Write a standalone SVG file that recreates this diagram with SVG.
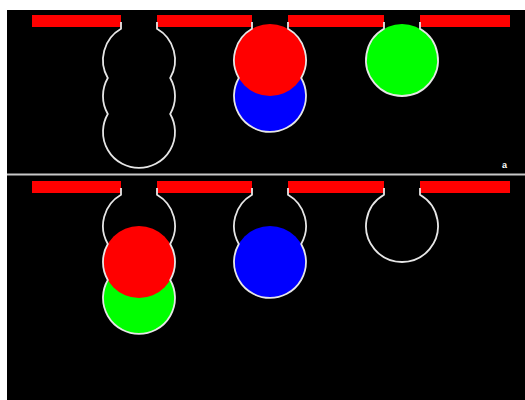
<svg xmlns="http://www.w3.org/2000/svg" width="525" height="400" viewBox="0 0 525 400">
<style>
.bar{fill:#ff0000}
.pocket{fill:none;stroke:#e6e6e6;stroke-width:1.8}
.r{fill:#ff0000}.g{fill:#00ff00}.b{fill:#0000ff}
.lbl{font-family:"Liberation Sans",Arial,sans-serif;font-size:9px;font-weight:bold;fill:#ffffff}
</style>
<rect x="0" y="0" width="525" height="400" fill="#ffffff"/>
<rect x="7" y="10" width="518" height="390" fill="#000000"/>
<line x1="7" y1="174.5" x2="525" y2="174.5" stroke="#c8c8c8" stroke-width="2"/>
<g id="top-panel">
  <g id="top-bars">
    <rect class="bar" x="32" y="15" width="89" height="12"/>
    <rect class="bar" x="157" y="15" width="95" height="12"/>
    <rect class="bar" x="288" y="15" width="96" height="12"/>
    <rect class="bar" x="420" y="15" width="90" height="12"/>
  </g>
  <g id="top-pocket-1">
    <path class="pocket" d="M121,22 L121,28.8 A36,36 0 0 0 107.8,78 A36,36 0 0 0 107.8,114 A36,36 0 1 0 170.2,114 A36,36 0 0 0 170.2,78 A36,36 0 0 0 157,28.8 L157,22"/>
  </g>
  <g id="top-pocket-2">
    <circle class="b" cx="270" cy="96" r="36"/>
    <circle class="r" cx="270" cy="60" r="36"/>
    <path class="pocket" d="M252,22 L252,28.8 A36,36 0 0 0 238.8,78 A36,36 0 1 0 301.2,78 A36,36 0 0 0 288,28.8 L288,22"/>
  </g>
  <g id="top-pocket-3">
    <circle class="g" cx="402" cy="60" r="36"/>
    <path class="pocket" d="M384,22 L384,28.8 A36,36 0 1 0 420,28.8 L420,22"/>
  </g>
  <text class="lbl" x="502" y="168">a</text>
</g>
<g id="bottom-panel">
  <g id="bottom-bars">
    <rect class="bar" x="32" y="181" width="89" height="12"/>
    <rect class="bar" x="157" y="181" width="95" height="12"/>
    <rect class="bar" x="288" y="181" width="96" height="12"/>
    <rect class="bar" x="420" y="181" width="90" height="12"/>
  </g>
  <g id="bottom-pocket-1">
    <circle class="g" cx="139" cy="298" r="36"/>
    <circle class="r" cx="139" cy="262" r="36"/>
    <path class="pocket" d="M121,188 L121,194.8 A36,36 0 0 0 107.8,244 A36,36 0 0 0 107.8,280 A36,36 0 1 0 170.2,280 A36,36 0 0 0 170.2,244 A36,36 0 0 0 157,194.8 L157,188"/>
  </g>
  <g id="bottom-pocket-2">
    <circle class="b" cx="270" cy="262" r="36"/>
    <path class="pocket" d="M252,188 L252,194.8 A36,36 0 0 0 238.8,244 A36,36 0 1 0 301.2,244 A36,36 0 0 0 288,194.8 L288,188"/>
  </g>
  <g id="bottom-pocket-3">
    <path class="pocket" d="M384,188 L384,194.8 A36,36 0 1 0 420,194.8 L420,188"/>
  </g>
</g>
</svg>
